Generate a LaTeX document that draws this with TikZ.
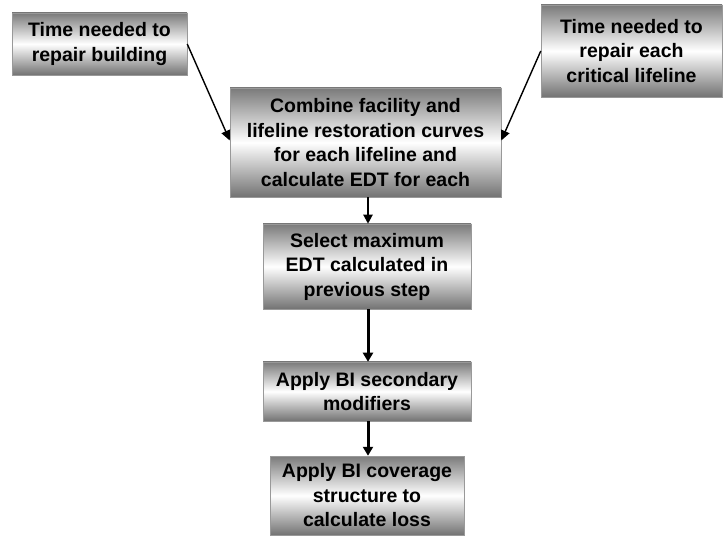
\documentclass[tikz,border=0pt]{standalone}
\usepackage{fontspec}
\setmainfont{Liberation Sans}
\usetikzlibrary{arrows.meta}
\begin{document}
\begin{tikzpicture}[x=1pt,y=1pt,
  box/.style={draw=black!40, line width=0.5pt, shading=axis, top color=black!52, bottom color=black!55, middle color=white,
    align=center, inner sep=0pt, font=\fontsize{19.5}{24.5}\selectfont\bfseries},
  thin arrow/.style={line width=1.4pt, -{Triangle[length=10pt,width=9pt]}},
  thick arrow/.style={line width=3pt, -{Triangle[length=9pt,width=10pt]}}]
\useasboundingbox (0,0) rectangle (726,-545);
\node[box, minimum width=175pt, minimum height=62pt] (b1) at (99.5,-44) {Time needed to\\repair building};
\node[box, minimum width=181pt, minimum height=92pt] (b2) at (631.5,-51) {Time needed to\\repair each\\critical lifeline};
\node[box, minimum width=271pt, minimum height=109pt] (b3) at (365.5,-142.5) {Combine facility and\\lifeline restoration curves\\for each lifeline and\\calculate EDT for each};
\node[box, minimum width=208pt, minimum height=85pt] (b4) at (367,-266.5) {Select maximum\\EDT calculated in\\previous step};
\node[box, minimum width=208pt, minimum height=59pt] (b5) at (367,-391.5) {Apply BI secondary\\modifiers};
\node[box, minimum width=194pt, minimum height=79pt] (b6) at (367,-495.5) {Apply BI coverage\\structure to\\calculate loss};
\draw[thin arrow] (b1.east) -- ([yshift=2pt]b3.west);
\draw[thin arrow] (b2.west) -- ([yshift=2pt]b3.east);
\draw[line width=2pt, -{Triangle[length=9pt,width=9pt]}] (b3.south -| 368,0) -- (b4.north -| 368,0);
\draw[thick arrow] (b4.south -| 368,0) -- (b5.north -| 368,0);
\draw[thick arrow] (b5.south -| 368,0) -- (b6.north -| 368,0);
\end{tikzpicture}
\end{document}
